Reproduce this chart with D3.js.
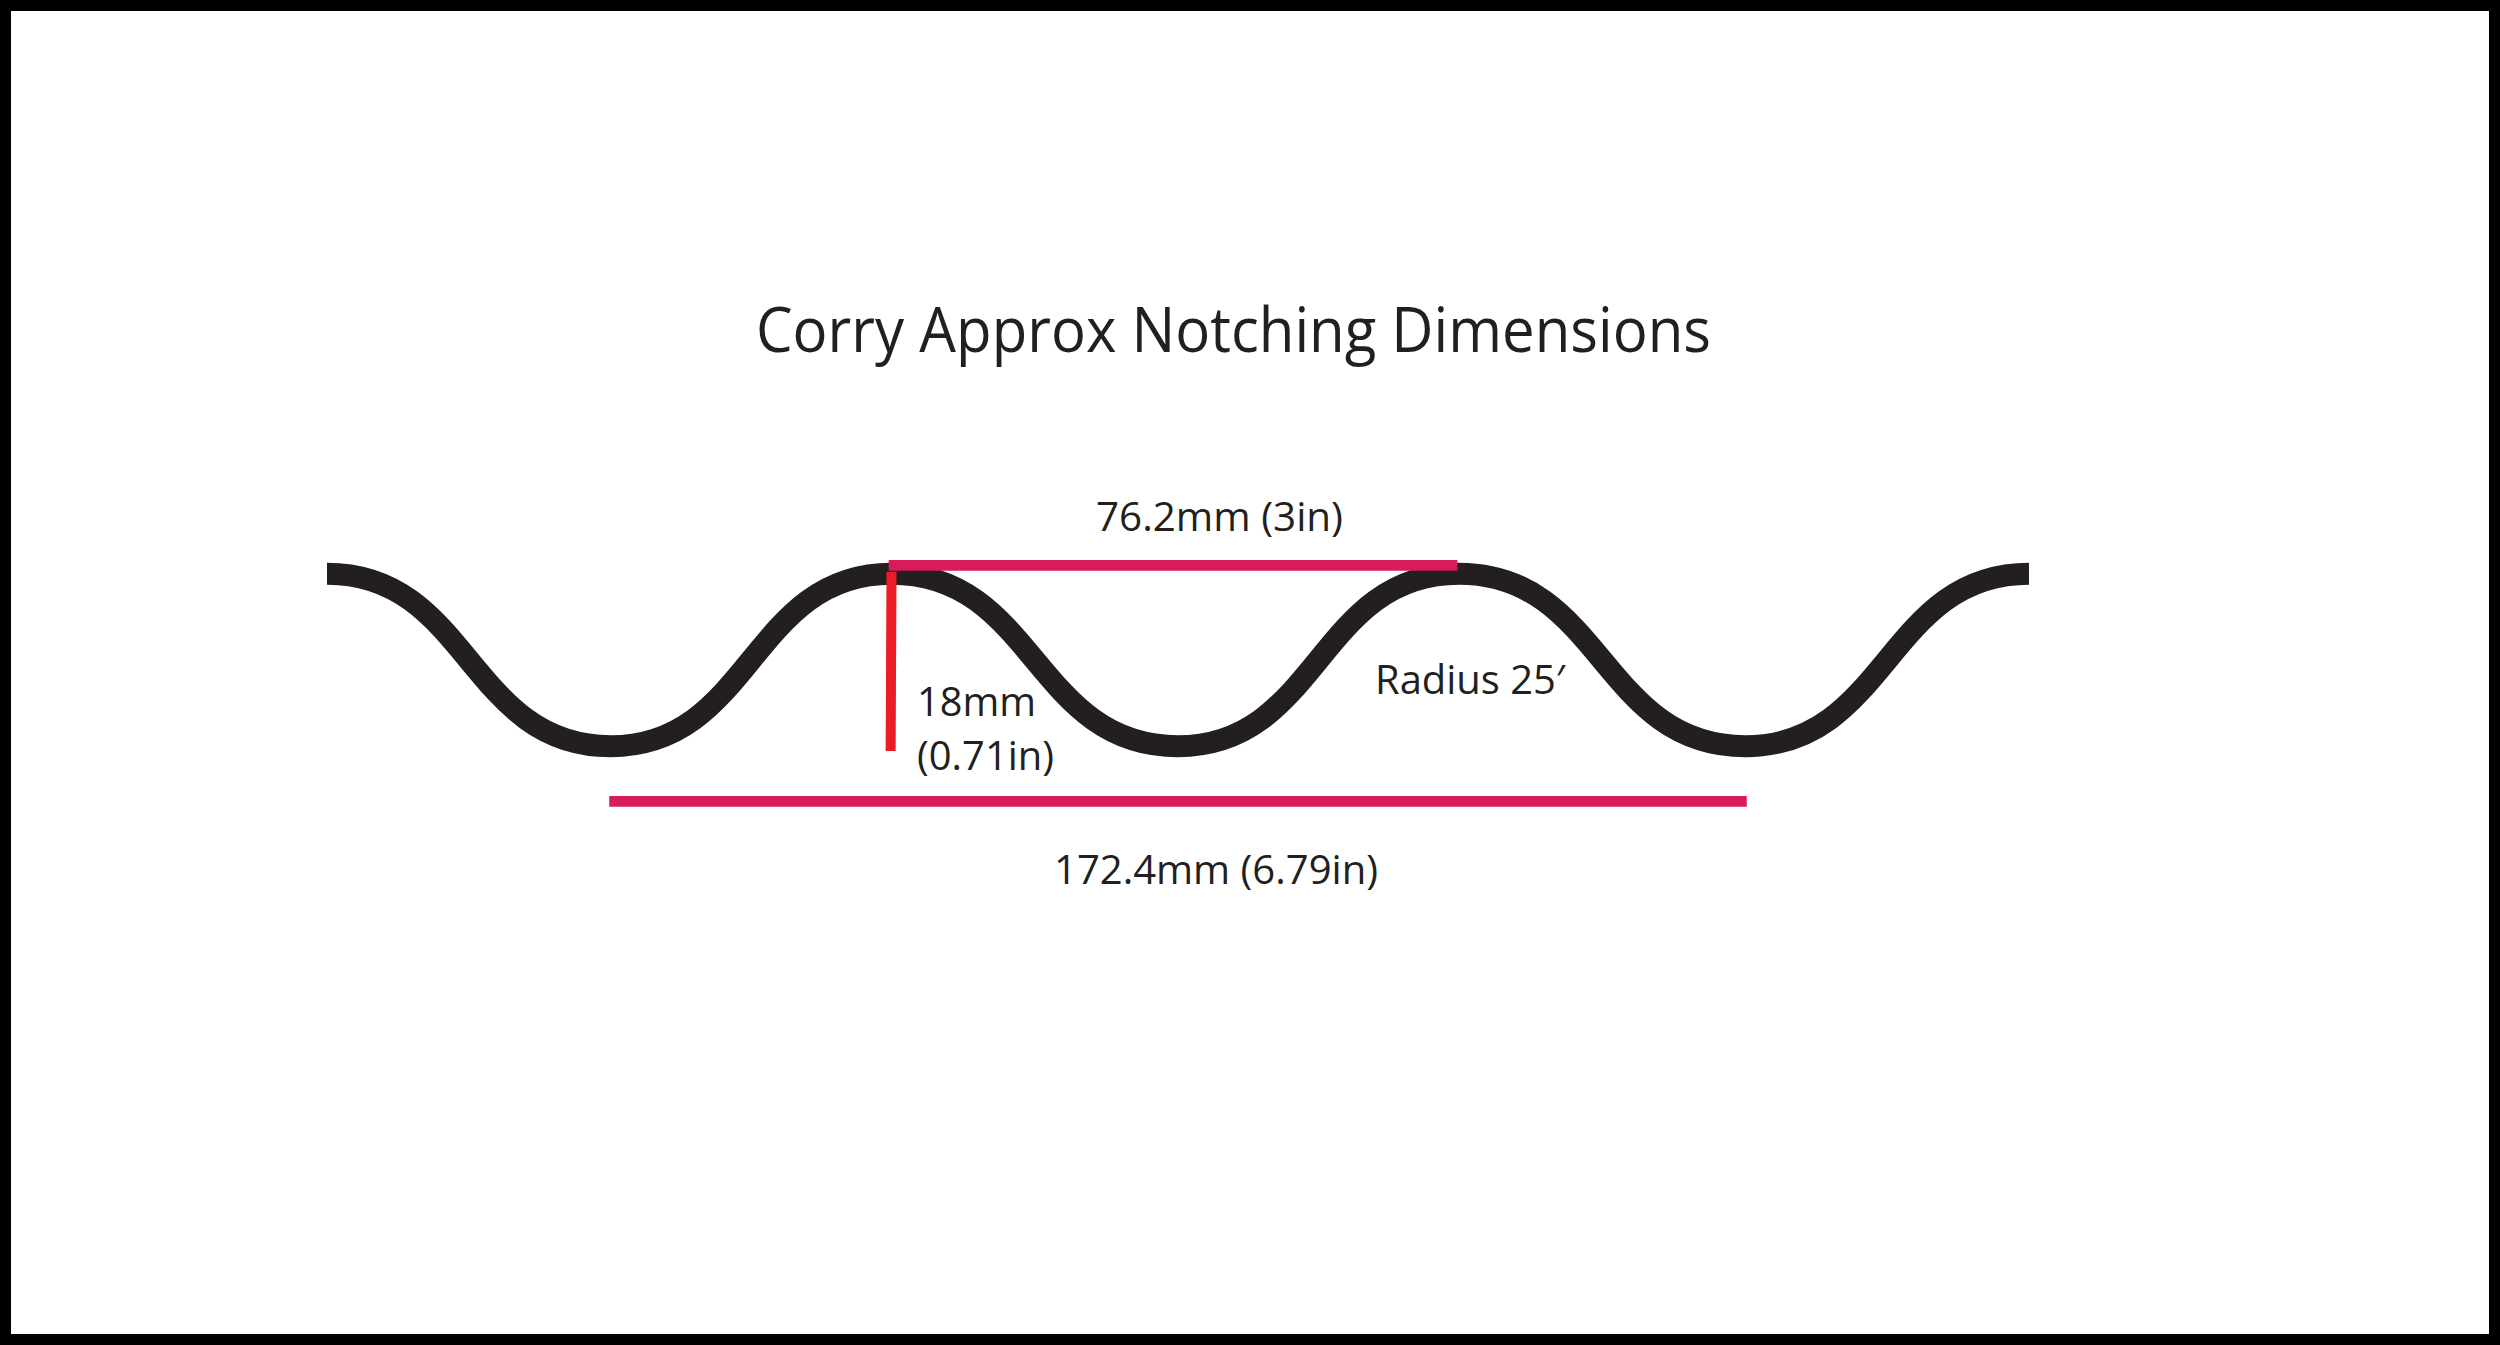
<!DOCTYPE html>
<html>
<head>
<meta charset="utf-8">
<script src="https://cdn.jsdelivr.net/npm/d3@7"></script>
<style>
html, body { margin: 0; padding: 0; background: #fff; }
svg { display: block; }
text { font-family: "Open Sans", sans-serif; fill: #231f20; }
</style>
</head>
<body>
<script>
// profile: half pitches along, depth in mm down from crest
var wavePitch = [0, 1, 1.99, 3, 3.99, 5, 6];
var waveDepth = [0, 18, 0, 18, 0, 18, 0];

// dimension lines, same units
var pitchSpan = [1.98, 3.985];
var pitchDepth = -0.87;
var troughSpan = [0.995, 5.005];
var troughDepth = 23.75;
var heightPitch = [1.99, 1.987];
var heightDepth = [-0.2, 18.5];

var titleText = "Corry Approx Notching Dimensions";
var pitchLabel = "76.2mm (3in)";
var troughLabel = "172.4mm (6.79in)";
var heightLabel = ["18mm", "(0.71in)"];
var radiusLabel = "Radius 25\u2032";

var svg = d3.select("body").append("svg")
    .attr("width", 2500)
    .attr("height", 1345);

var x = d3.scaleLinear().domain([0, 6]).range([327, 2029]);
var y = d3.scaleLinear().domain([0, 18]).range([573.7, 746.2]);

// frame
svg.append("rect")
    .attr("x", 5.5).attr("y", 5.5)
    .attr("width", 2489).attr("height", 1334)
    .attr("fill", "none")
    .attr("stroke", "#000")
    .attr("stroke-width", 11);

var line = d3.line()
    .x(function(d) { return x(d[0]); })
    .y(function(d) { return y(d[1]); })
    .curve(d3.curveBumpX);

svg.append("path")
    .attr("d", line(d3.zip(wavePitch, waveDepth)))
    .attr("fill", "none")
    .attr("stroke", "#231f20")
    .attr("stroke-width", 22);

function dimLine(x1, x2, y1, y2, color, w)
{
    svg.append("line")
        .attr("x1", x(x1)).attr("x2", x(x2))
        .attr("y1", y(y1)).attr("y2", y(y2))
        .attr("stroke", color)
        .attr("stroke-width", w);
}

dimLine(pitchSpan[0], pitchSpan[1], pitchDepth, pitchDepth, "#d71b5b", 10.7);
dimLine(troughSpan[0], troughSpan[1], troughDepth, troughDepth, "#d71b5b", 10.7);
dimLine(heightPitch[0], heightPitch[1], heightDepth[0], heightDepth[1], "#ed1c24", 10);

function label(str, px, py, size, len)
{
    svg.append("text")
        .attr("x", px).attr("y", py)
        .attr("font-size", size)
        .attr("textLength", len)
        .attr("lengthAdjust", "spacingAndGlyphs")
        .text(str);
}

label(titleText, 756, 352, 62, 955);
label(pitchLabel, 1096, 531, 40, 247);
label(troughLabel, 1054, 884, 40, 324);
label(heightLabel[0], 917, 716, 40, 119);
label(heightLabel[1], 917, 770, 40, 137);
label(radiusLabel, 1375, 694, 40, 190);
</script>
</body>
</html>
